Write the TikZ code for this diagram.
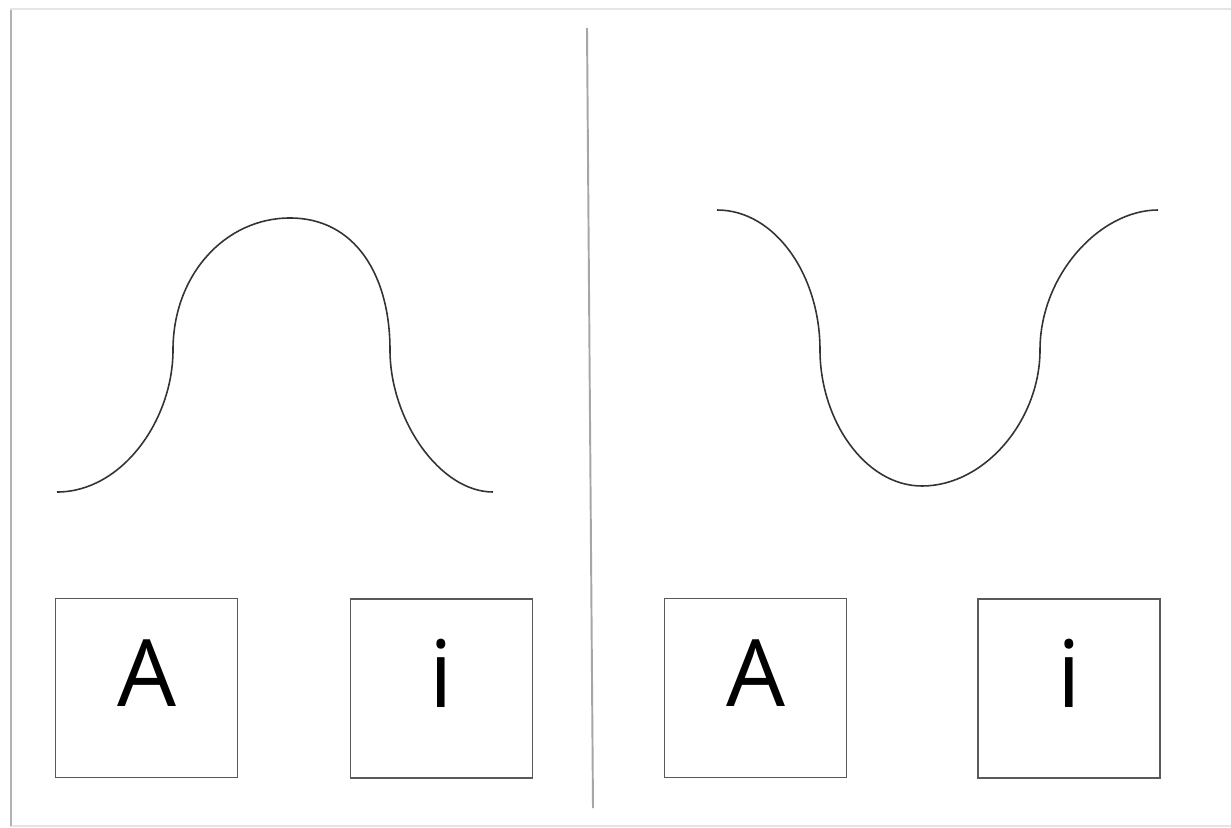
\documentclass[tikz,border=0pt]{standalone}
\usepackage{fontspec}
\setmainfont{Open Sans}
\usepackage{tikz}
\usetikzlibrary{positioning}

\begin{document}
\begin{tikzpicture}[
    x=0.02cm, y=-0.02cm,
    card/.style   = {draw=black!65, line width=0.8pt, minimum width=3.64cm,
                     minimum height=3.58cm, inner sep=0pt, text depth=0.6cm,
                     font=\fontsize{53}{60}\selectfont},
    wave/.style   = {draw=black!80, line width=0.9pt},
    divider/.style = {draw=black!35, line width=1.1pt}
]
\useasboundingbox (0,0) rectangle (1231,828);

% ---------------- page frame ----------------
\fill[white] (0,0) rectangle (1231,828);
\draw[black!10, line width=1pt] (10,9) -- (1231,9);
\draw[black!10, line width=1pt] (10,826) -- (1231,826);
\draw[black!30, line width=1.5pt] (11,10) -- (11,826);

% ---------------- divider ----------------
\coordinate (div_t) at (587,28);
\coordinate (div_b) at (593,808);
\draw[divider] (div_t) -- (div_b);

% ---------------- left curve (hump) ----------------
\draw[wave] (57,492) .. controls (122,492) and (173,420) .. (173,350)
                     .. controls (173,275) and (225,218) .. (290,218)
                     .. controls (355,218) and (390,275) .. (390,350)
                     .. controls (390,420) and (440,492) .. (493,492);

% ---------------- right curve (dip) ----------------
\draw[wave] (717,210) .. controls (775,210) and (820,275) .. (820,350)
                      .. controls (820,420) and (865,486) .. (922,486)
                      .. controls (985,486) and (1040,420) .. (1040,350)
                      .. controls (1040,275) and (1100,210) .. (1158,210);

% ---------------- cards ----------------
\node[card] (a_left)  at (146.5,688) {A};
\node[card] (i_left)  at (441.5,688.5) {i};
\node[card] (a_right) at (755.5,688) {A};
\node[card] (i_right) at (1069,688.5) {i};

\end{tikzpicture}
\end{document}
